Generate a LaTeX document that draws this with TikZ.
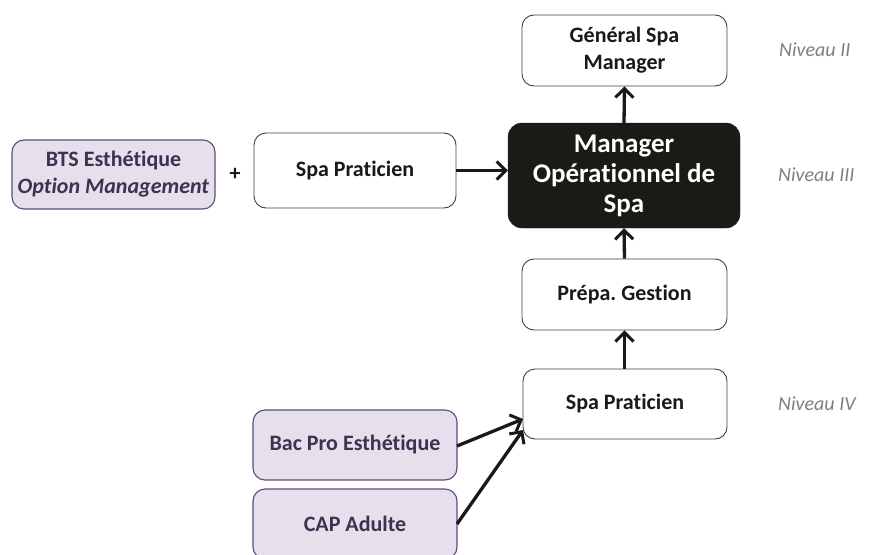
\documentclass[tikz,border=0pt]{standalone}
\usepackage{fontspec}
\setmainfont{Carlito}[Ligatures=NoCommon]
\frenchspacing
\usetikzlibrary{arrows.meta}
\definecolor{lav}{HTML}{E6E0EC}
\definecolor{lavborder}{HTML}{5F4A7A}
\definecolor{lavtext}{HTML}{3F3151}
\definecolor{darkfill}{HTML}{1C1A14}
\definecolor{lvl}{HTML}{7F7F7F}
\tikzset{
  wbox/.style={draw=black!75, line width=0.9pt, fill=white, rounded corners=12pt, align=center, font=\fontsize{22}{27}\selectfont\bfseries, text=black!90, inner sep=2pt},
  lbox/.style={draw=lavborder, line width=1.1pt, fill=lav, rounded corners=12pt, align=center, font=\fontsize{22}{27}\selectfont\bfseries, text=lavtext, inner sep=2pt},
  dbox/.style={draw=darkfill, fill=darkfill, rounded corners=14pt, align=center, font=\fontsize{27}{30}\selectfont\bfseries, text=white, inner sep=2pt},
  lvlab/.style={anchor=west, font=\fontsize{20}{24}\selectfont\itshape, text=lvl, inner sep=0pt},
  conn/.style={line width=3.3pt, draw=black!90, -{Straight Barb[length=9pt,width=18pt,line width=3pt]}}
}
\begin{document}
\begin{tikzpicture}[x=1pt,y=-1pt]
\useasboundingbox (0,0) rectangle (882,554);
\node[wbox, minimum width=205pt, minimum height=71pt] (gsm) at (624.5,50.5) {Général Spa\\Manager};
\node[dbox, minimum width=232pt, minimum height=105pt] (mop) at (624,175.5) {Manager\\Opérationnel de\\Spa};
\node[wbox, minimum width=202pt, minimum height=75pt] (sp1) at (355,170.5) {Spa Praticien};
\node[lbox, minimum width=203pt, minimum height=69pt] (bts) at (113.5,174.5) {BTS Esthétique\\\textit{Option Management}};
\node[font=\fontsize{22}{27}\selectfont\bfseries, text=black!90] (plus) at (235,174) {+};
\node[wbox, minimum width=205pt, minimum height=71pt] (prep) at (624.5,294.5) {Prépa. Gestion};
\node[wbox, minimum width=204pt, minimum height=70pt] (sp2) at (625,404) {Spa Praticien};
\node[lbox, minimum width=204pt, minimum height=70pt] (bac) at (355,445) {Bac Pro Esthétique};
\node[lbox, minimum width=204pt, minimum height=70pt] (cap) at (355,524) {CAP Adulte};
\node[lvlab] (n2) at (779,50) {Niveau II};
\node[lvlab] (n3) at (778,175) {Niveau III};
\node[lvlab] (n4) at (778,404) {Niveau IV};
\coordinate (sp2a) at (523,419);
\coordinate (sp2b) at (523,430);
\coordinate (bacr) at (457,446);
\coordinate (capr) at (457,524);
\draw[conn] (sp1.east) -- (mop.west |- sp1.east);
\draw[conn] (mop.north) -- (gsm.south);
\draw[conn] (prep.north) -- (mop.south);
\draw[conn] (sp2.north -| prep.north) -- (prep.south);
\draw[conn] (bacr) -- (sp2a);
\draw[conn] (capr) -- (sp2b);
\end{tikzpicture}
\end{document}
